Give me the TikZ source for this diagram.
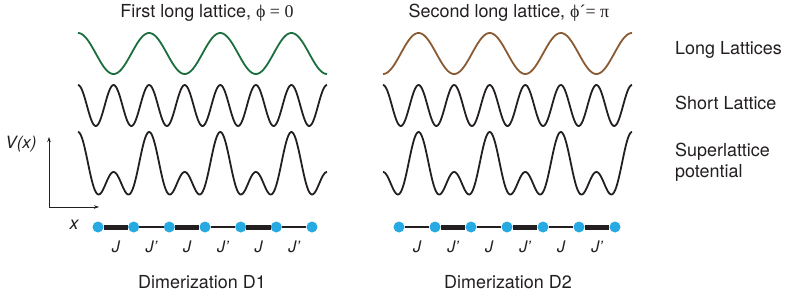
\documentclass[tikz,border=0pt]{standalone}
\usepackage{fontspec}
\setmainfont{TeX Gyre Heros}
\setsansfont{TeX Gyre Heros}
\newfontfamily\symf{Liberation Serif}
\usetikzlibrary{arrows.meta}
\definecolor{wgreen}{HTML}{1B6F3F}
\definecolor{wbrown}{HTML}{8A5A32}
\definecolor{wdark}{HTML}{231F20}
\definecolor{dotblue}{HTML}{27AAE1}
\begin{document}
\begin{tikzpicture}[x=1bp,y=-1bp,
  wave/.style={line width=1.8bp, line join=round},
  dotnode/.style={circle, fill=dotblue, inner sep=0pt, minimum size=11bp},
  thickbond/.style={line width=5bp, wdark},
  thinbond/.style={line width=1.1bp, wdark},
  txt/.style={inner sep=0pt, font=\fontsize{18}{21}\selectfont, text=wdark},
  jlab/.style={inner sep=0pt, font=\fontsize{16}{19}\selectfont\itshape, text=wdark},
  axis/.style={line width=0.8bp, wdark, -{Stealth[length=5bp,width=3.5bp]}}]
\useasboundingbox (0,0) rectangle (789,298);
\fill[white] (0,0) rectangle (789,298);
\def\kk{5.0604}
% titles
\node[txt] (t1) at (207,13) {First long lattice, {\symf ϕ = 0}};
\node[txt] (t2) at (509,13) {Second long lattice, {\symf ϕ´= π}};
% left waves
\draw[wave, wgreen] plot[domain=78:327, samples=250, smooth] (\x, {53.5-20.5*cos(\kk*(\x-78))});
\draw[wave, wdark] plot[domain=78:327, samples=250, smooth] (\x, {105.5-20.5*cos(2*\kk*(\x-78))});
\draw[wave, wdark] plot[domain=78:327, samples=300, smooth] (\x, {172-20*cos(\kk*(\x-78))-20*cos(2*\kk*(\x-78))});
% right waves
\draw[wave, wbrown] plot[domain=383:632, samples=250, smooth] (\x, {53.5+20.5*cos(\kk*(\x-383))});
\draw[wave, wdark] plot[domain=383:632, samples=250, smooth] (\x, {105.5-20.5*cos(2*\kk*(\x-383))});
\draw[wave, wdark] plot[domain=383:632, samples=300, smooth] (\x, {172+20*cos(\kk*(\x-383))-20*cos(2*\kk*(\x-383))});
% side labels
\node[txt, anchor=west] (ll) at (675,50) {Long Lattices};
\node[txt, anchor=west] (sl) at (675,103) {Short Lattice};
\node[txt, anchor=west, align=left, font=\fontsize{18}{21}\selectfont] (sp) at (675,162.5) {Superlattice\\potential};
% axes
\coordinate (o) at (49,207);
\coordinate (ya) at (49,137);
\coordinate (xa) at (99,207);
\draw[axis] (o) -- (ya);
\draw[axis] (o) -- (xa);
\node[txt, font=\fontsize{17}{20}\selectfont\itshape] (vx) at (21,144) {V(x)};
\node[txt, font=\fontsize{18}{20}\selectfont\itshape] (xl) at (74,225) {x};
% left chain
\foreach \i/\xx in {1/98,2/133.7,3/169.3,4/205,5/240.7,6/276.3,7/312}
  \node[dotnode] (l\i) at (\xx,227) {};
\draw[thickbond] (l1) -- (l2);
\draw[thinbond] (l2) -- (l3);
\draw[thickbond] (l3) -- (l4);
\draw[thinbond] (l4) -- (l5);
\draw[thickbond] (l5) -- (l6);
\draw[thinbond] (l6) -- (l7);
\node[jlab] (lj1) at (115.8,247) {J};
\node[jlab] (lj2) at (151.5,247) {J’};
\node[jlab] (lj3) at (187.2,247) {J};
\node[jlab] (lj4) at (222.8,247) {J’};
\node[jlab] (lj5) at (258.5,247) {J};
\node[jlab] (lj6) at (294.2,247) {J’};
% right chain
\foreach \i/\xx in {1/399,2/435,3/471,4/507,5/543,6/579,7/615}
  \node[dotnode] (r\i) at (\xx,227) {};
\draw[thinbond] (r1) -- (r2);
\draw[thickbond] (r2) -- (r3);
\draw[thinbond] (r3) -- (r4);
\draw[thickbond] (r4) -- (r5);
\draw[thinbond] (r5) -- (r6);
\draw[thickbond] (r6) -- (r7);
\node[jlab] (rj1) at (417,247) {J};
\node[jlab] (rj2) at (453,247) {J’};
\node[jlab] (rj3) at (489,247) {J};
\node[jlab] (rj4) at (525,247) {J’};
\node[jlab] (rj5) at (561,247) {J};
\node[jlab] (rj6) at (597,247) {J’};
% bottom labels
\node[txt] (d1) at (202,282) {Dimerization D1};
\node[txt] (d2) at (508,282) {Dimerization D2};
\end{tikzpicture}
\end{document}
